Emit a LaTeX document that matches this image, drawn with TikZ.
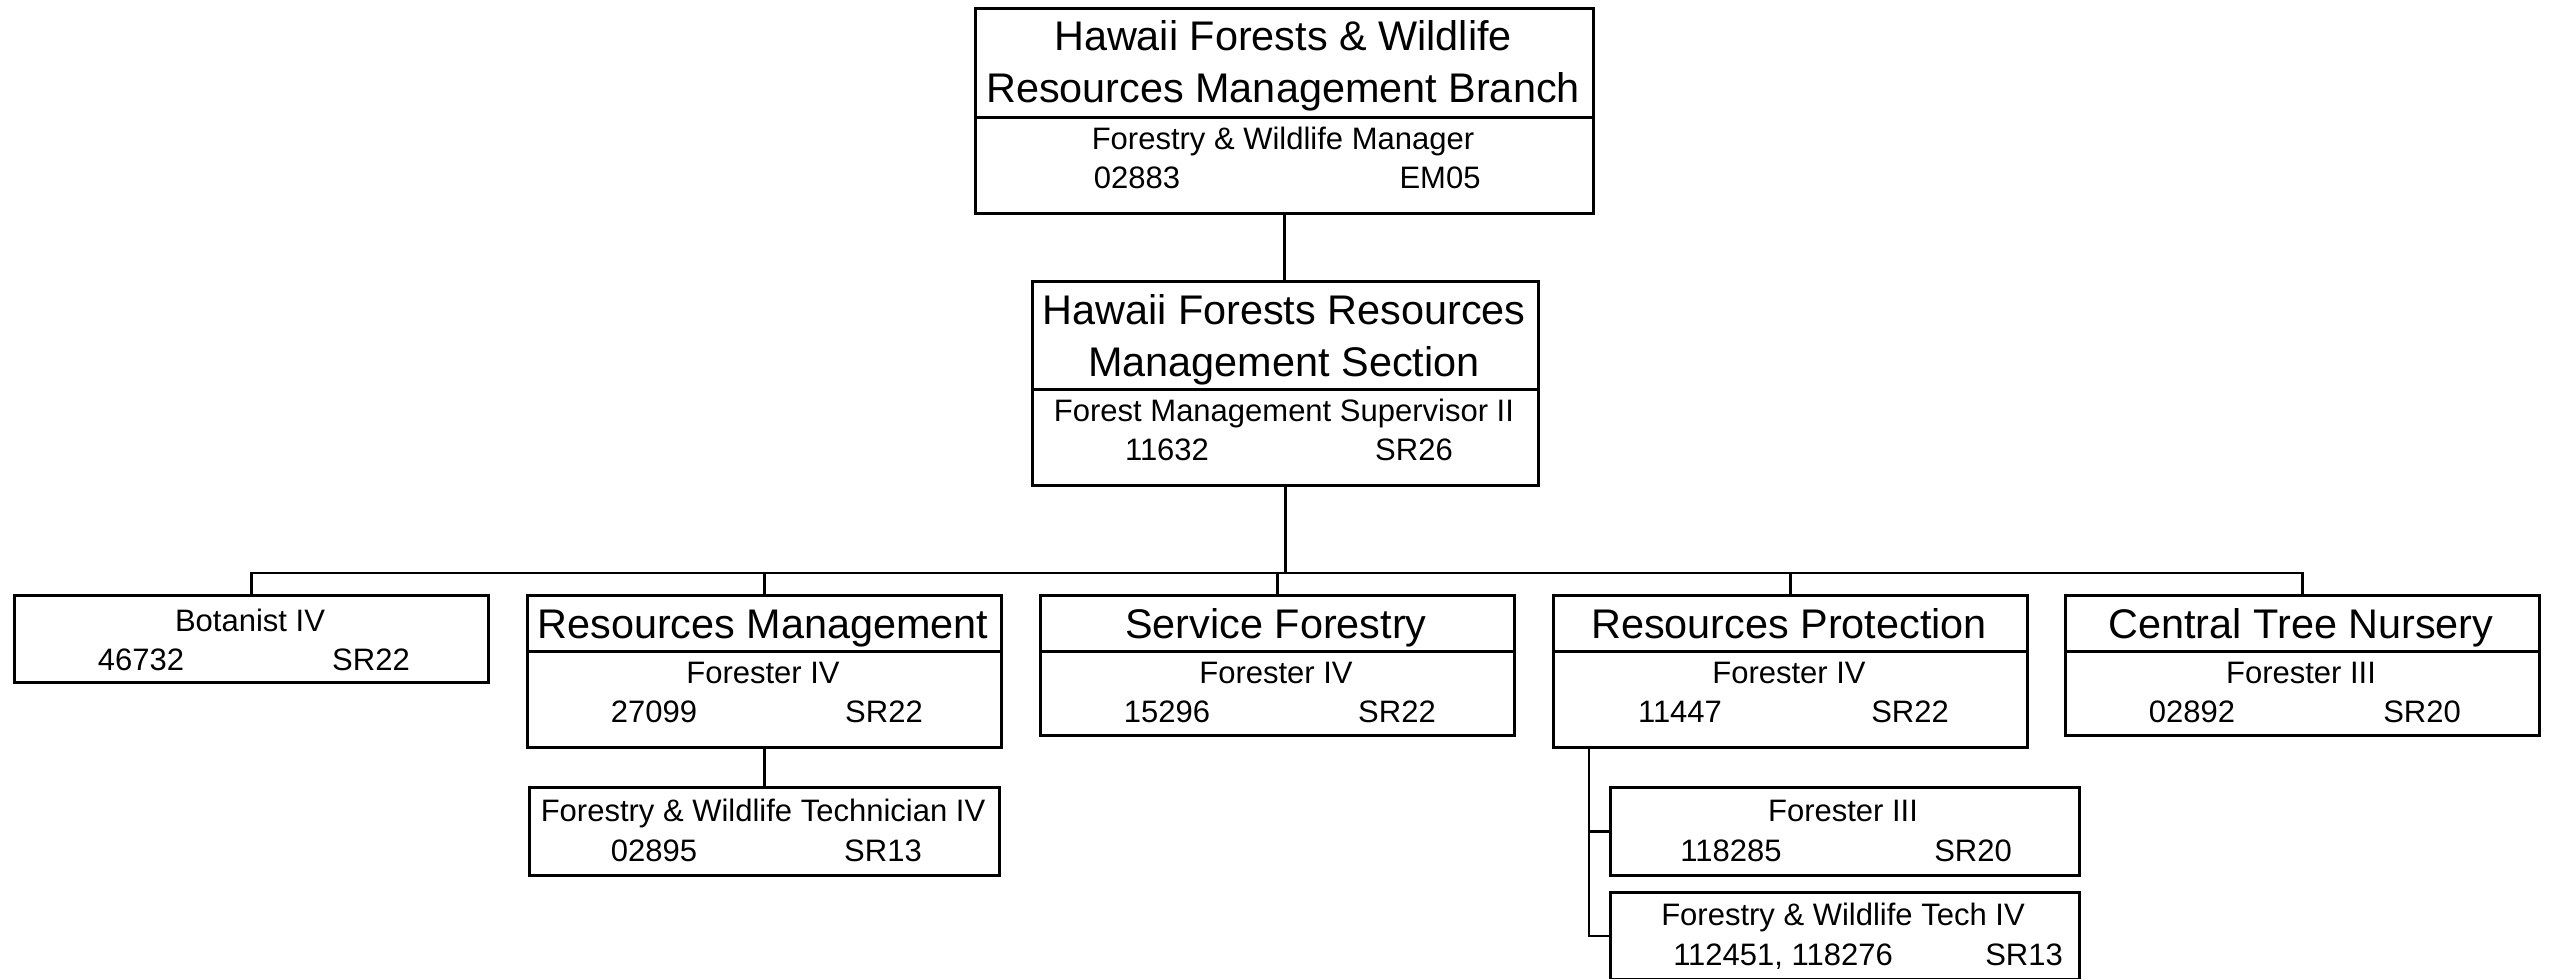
\documentclass[tikz,border=0pt]{standalone}
\usepackage{fontspec}
\setmainfont{Liberation Sans}
\begin{document}
\tikzset{
  cell/.style={draw, line width=1.5pt, rectangle, inner sep=0pt, anchor=north west},
  ttl/.style={anchor=base, inner sep=0pt, font=\fontsize{20.7pt}{26pt}\selectfont},
  txt/.style={anchor=base, inner sep=0pt, font=\fontsize{15.5pt}{20pt}\selectfont},
  link/.style={line width=1.3pt},
}
\begin{tikzpicture}[x=0.5pt,y=-0.5pt]
\useasboundingbox (0,0) rectangle (2553,979);

% Top branch
\node[cell, minimum width=309pt, minimum height=54.5pt] (top-h) at (974,7) {};
\node[cell, minimum width=309pt, minimum height=48pt] (top-b) at (974,116) {};
\node[ttl] (top-t1) at (1283,51) {Hawaii Forests \& Wildlife};
\node[ttl] (top-t2) at (1283,103) {Resources Management Branch};
\node[txt] (top-l1) at (1283,149) {Forestry \& Wildlife Manager};
\node[txt] (top-n) at (1137,188) {02883};
\node[txt] (top-g) at (1440,188) {EM05};

% Section
\node[cell, minimum width=253pt, minimum height=54pt] (sec-h) at (1031,280) {};
\node[cell, minimum width=253pt, minimum height=48pt] (sec-b) at (1031,388) {};
\node[ttl] (sec-t1) at (1284,324) {Hawaii Forests Resources};
\node[ttl] (sec-t2) at (1284,376) {Management Section};
\node[txt] (sec-l1) at (1284,421) {Forest Management Supervisor II};
\node[txt] (sec-n) at (1167,460) {11632};
\node[txt] (sec-g) at (1414,460) {SR26};

% Botanist
\node[cell, minimum width=237pt, minimum height=43.5pt] (bot) at (13,594) {};
\node[txt] (bot-l1) at (250,631) {Botanist IV};
\node[txt] (bot-n) at (141,670) {46732};
\node[txt] (bot-g) at (371,670) {SR22};

% Resources Management
\node[cell, minimum width=237pt, minimum height=28pt] (rm-h) at (526,594) {};
\node[cell, minimum width=237pt, minimum height=48pt] (rm-b) at (526,650) {};
\node[ttl] (rm-t) at (763,638) {Resources Management};
\node[txt] (rm-l1) at (763,683) {Forester IV};
\node[txt] (rm-n) at (654,722) {27099};
\node[txt] (rm-g) at (884,722) {SR22};

% Service Forestry
\node[cell, minimum width=237pt, minimum height=28pt] (sf-h) at (1039,594) {};
\node[cell, minimum width=237pt, minimum height=42pt] (sf-b) at (1039,650) {};
\node[ttl] (sf-t) at (1276,638) {Service Forestry};
\node[txt] (sf-l1) at (1276,683) {Forester IV};
\node[txt] (sf-n) at (1167,722) {15296};
\node[txt] (sf-g) at (1397,722) {SR22};

% Resources Protection
\node[cell, minimum width=237pt, minimum height=28pt] (rp-h) at (1552,594) {};
\node[cell, minimum width=237pt, minimum height=48pt] (rp-b) at (1552,650) {};
\node[ttl] (rp-t) at (1789,638) {Resources Protection};
\node[txt] (rp-l1) at (1789,683) {Forester IV};
\node[txt] (rp-n) at (1680,722) {11447};
\node[txt] (rp-g) at (1910,722) {SR22};

% Central Tree Nursery
\node[cell, minimum width=237pt, minimum height=28pt] (ctn-h) at (2064,594) {};
\node[cell, minimum width=237pt, minimum height=42pt] (ctn-b) at (2064,650) {};
\node[ttl] (ctn-t) at (2301,638) {Central Tree Nursery};
\node[txt] (ctn-l1) at (2301,683) {Forester III};
\node[txt] (ctn-n) at (2192,722) {02892};
\node[txt] (ctn-g) at (2422,722) {SR20};

% Technician under RM
\node[cell, minimum width=235pt, minimum height=44pt] (tech) at (528,786) {};
\node[txt] (tech-l1) at (763,821) {Forestry \& Wildlife Technician IV};
\node[txt] (tech-n) at (654,861) {02895};
\node[txt] (tech-g) at (883,861) {SR13};

% Forester III under RP
\node[cell, minimum width=234.5pt, minimum height=44pt] (f3) at (1609,786) {};
\node[txt] (f3-l1) at (1843,821) {Forester III};
\node[txt] (f3-n) at (1731,861) {118285};
\node[txt] (f3-g) at (1973,861) {SR20};

% F&W Tech IV under RP
\node[cell, minimum width=234.5pt, minimum height=43.5pt] (ft4) at (1609,891) {};
\node[txt] (ft4-l1) at (1843,925) {Forestry \& Wildlife Tech IV};
\node[txt] (ft4-n) at (1783,965) {112451, 118276};
\node[txt] (ft4-g) at (2024,965) {SR13};

% Connectors
\draw[link] (top-b.south) -- (top-b.south |- sec-h.north);
\coordinate (bus) at (1283,573);
\draw[link] (sec-b.south) -- (sec-b.south |- bus);
\draw[link] (bot.north) |- (bus);
\draw[link] (rm-h.north) |- (bus);
\draw[link] (sf-h.north) |- (bus);
\draw[link] (rp-h.north) |- (bus);
\draw[link] (ctn-h.north) |- (bus);
\draw[link] (rm-b.south) -- (rm-b.south |- tech.north);
\coordinate (rptap) at (1589,746);
\draw[link] (rptap) |- (f3.west);
\draw[link] (rptap) |- (ft4.west);
\end{tikzpicture}
\end{document}
